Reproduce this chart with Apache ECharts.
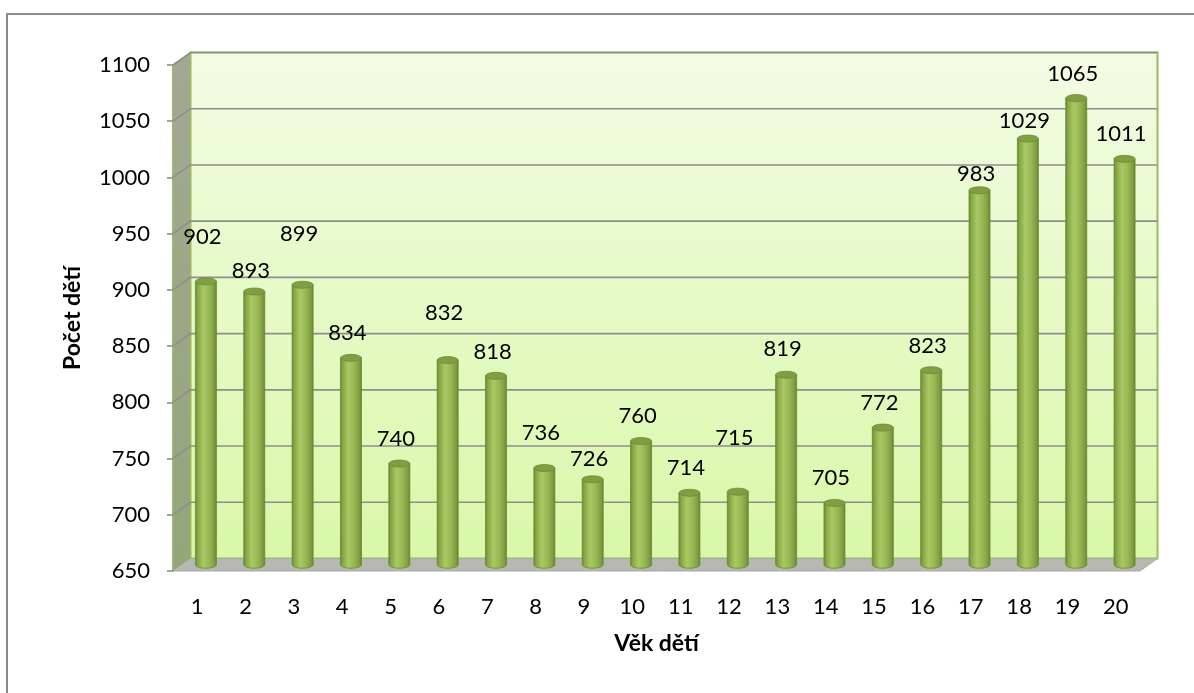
<!DOCTYPE html>
<html>
<head>
<meta charset="utf-8">
<script src="https://cdn.jsdelivr.net/npm/echarts@6/dist/echarts.min.js"></script>
<style>
  html, body { margin: 0; padding: 0; background: #fff; }
  #chart { width: 1194px; height: 693px; }
</style>
</head>
<body>
<div id="chart"></div>
<script>
// data
const categories = ['1', '2', '3', '4', '5', '6', '7', '8', '9', '10',
  '11', '12', '13', '14', '15', '16', '17', '18', '19', '20']
const childCounts = [902, 893, 899, 834, 740, 832, 818, 736, 726, 760,
  714, 715, 819, 705, 772, 823, 983, 1029, 1065, 1011]
const yMin = 650
const yMax = 1100
const yStep = 50

// layout of the fake 3D look (pixels)
const DX = 17.5
const DY = -12.5
const BAR_W = 21
// how far each value label sits above its bar top (Excel placed them unevenly)
const labelLift = [44, 21, 51, 25, 25, 47, 24, 35, 20, 25, 25, 54, 26, 25, 25, 24, 16, 18, 24, 25]

const FONT = 'Lato, "Open Sans", sans-serif'

// walls, floor, gridlines
function renderWalls(params, api) {
  const cs = params.coordSys
  const L = cs.x, R = cs.x + cs.width, T = cs.y, B = cs.y + cs.height
  const children = []
  children.push({
    type: 'rect',
    shape: { x: L + DX, y: T + DY, width: cs.width, height: cs.height },
    style: {
      fill: new echarts.graphic.LinearGradient(0, 0, 0, 1, [
        { offset: 0, color: '#f2fce4' },
        { offset: 1, color: '#d9f8a8' }
      ]),
      stroke: '#9bbb59',
      lineWidth: 2
    }
  })
  children.push({
    type: 'polygon',
    shape: { points: [[L, T], [L + DX, T + DY], [L + DX, B + DY], [L, B]] },
    style: {
      fill: new echarts.graphic.LinearGradient(0, 0, 0, 1, [
        { offset: 0, color: '#a3a892' },
        { offset: 1, color: '#93a67a' }
      ]),
      stroke: '#9bbb59',
      lineWidth: 1
    }
  })
  for (let v = yMin + yStep; v <= yMax; v += yStep) {
    const y = api.coord([0, v])[1]
    children.push({
      type: 'polyline',
      shape: { points: [[L, y], [L + DX, y + DY], [R + DX, y + DY]] },
      style: { stroke: '#8e8e8e', lineWidth: 1.6, fill: null }
    })
  }
  children.push({
    type: 'polygon',
    shape: { points: [[L, B], [R, B], [R + DX, B + DY], [L + DX, B + DY]] },
    style: { fill: '#b6b8b2', stroke: '#a9aaa6', lineWidth: 1 }
  })
  return { type: 'group', children }
}

// cylinder bars + value labels
function renderBar(params, api) {
  const i = api.value(0)
  const v = api.value(1)
  const top = api.coord([i, v])
  const base = api.coord([i, yMin])
  const cx = top[0] + DX / 2
  const ty = top[1] + DY / 2
  const by = base[1] + DY / 2
  const rx = BAR_W / 2
  const ry = 3.5
  const body = `M${cx - rx},${ty} L${cx - rx},${by} A${rx},${ry} 0 0 0 ${cx + rx},${by} L${cx + rx},${ty} Z`
  const cap = `M${cx - rx},${ty} A${rx},${ry} 0 1 0 ${cx + rx},${ty} A${rx},${ry} 0 1 0 ${cx - rx},${ty} Z`
  return {
    type: 'group',
    children: [
      {
        type: 'path',
        shape: { pathData: body },
        style: {
          fill: new echarts.graphic.LinearGradient(0, 0, 1, 0, [
            { offset: 0, color: '#66852f' },
            { offset: 0.12, color: '#87a744' },
            { offset: 0.38, color: '#a9c965' },
            { offset: 0.65, color: '#98b855' },
            { offset: 0.88, color: '#7f9e40' },
            { offset: 1, color: '#63822c' }
          ]),
          stroke: '#6b8a35',
          lineWidth: 0.8
        }
      },
      {
        type: 'path',
        shape: { pathData: cap },
        style: { fill: '#819f42', stroke: '#6b8a35', lineWidth: 0.8 }
      },
      {
        type: 'text',
        x: cx - 3.5,
        y: ty - labelLift[params.dataIndex],
        style: {
          text: String(v),
          fill: '#000',
          fontSize: 22,
          fontFamily: FONT,
          align: 'center',
          verticalAlign: 'middle'
        }
      }
    ]
  }
}

const chart = echarts.init(document.getElementById('chart'))
chart.setOption({
  animation: false,
  backgroundColor: '#fff',
  graphic: [
    {
      type: 'rect',
      shape: { x: 7, y: 14, width: 1210, height: 710 },
      style: { fill: null, stroke: '#8c8c8c', lineWidth: 2 },
      z: 100
    }
  ],
  grid: { left: 173, right: 54, top: 65, bottom: 122 },
  xAxis: {
    type: 'category',
    data: categories,
    axisLine: { show: false },
    axisTick: { show: false },
    axisLabel: { margin: 25, fontSize: 22, fontFamily: FONT, color: '#000' },
    name: 'Věk dětí',
    nameLocation: 'middle',
    nameGap: 61,
    nameTextStyle: { fontSize: 23, fontWeight: 'bold', fontFamily: FONT, color: '#000' }
  },
  yAxis: {
    type: 'value',
    min: yMin,
    max: yMax,
    interval: yStep,
    axisLine: { show: true, lineStyle: { color: '#868686', width: 1.5 } },
    axisTick: { show: true, length: 6, lineStyle: { color: '#868686', width: 1.5 } },
    splitLine: { show: false },
    axisLabel: {
      margin: 23,
      fontSize: 22,
      fontFamily: FONT,
      color: '#000',
      formatter: (v) => String(v)
    },
    name: 'Počet dětí',
    nameLocation: 'middle',
    nameRotate: 90,
    nameGap: 89,
    nameTextStyle: { fontSize: 23, fontWeight: 'bold', fontFamily: FONT, color: '#000' }
  },
  series: [
    {
      type: 'custom',
      name: 'walls',
      renderItem: renderWalls,
      data: [[0, yMin]],
      encode: { x: 0, y: 1 },
      silent: true,
      z: 1
    },
    {
      type: 'custom',
      name: 'Počet dětí',
      renderItem: renderBar,
      data: childCounts.map((v, i) => [i, v]),
      encode: { x: 0, y: 1 },
      z: 3
    }
  ]
})

window.addEventListener('resize', () => {
  chart.resize()
})
</script>
</body>
</html>
